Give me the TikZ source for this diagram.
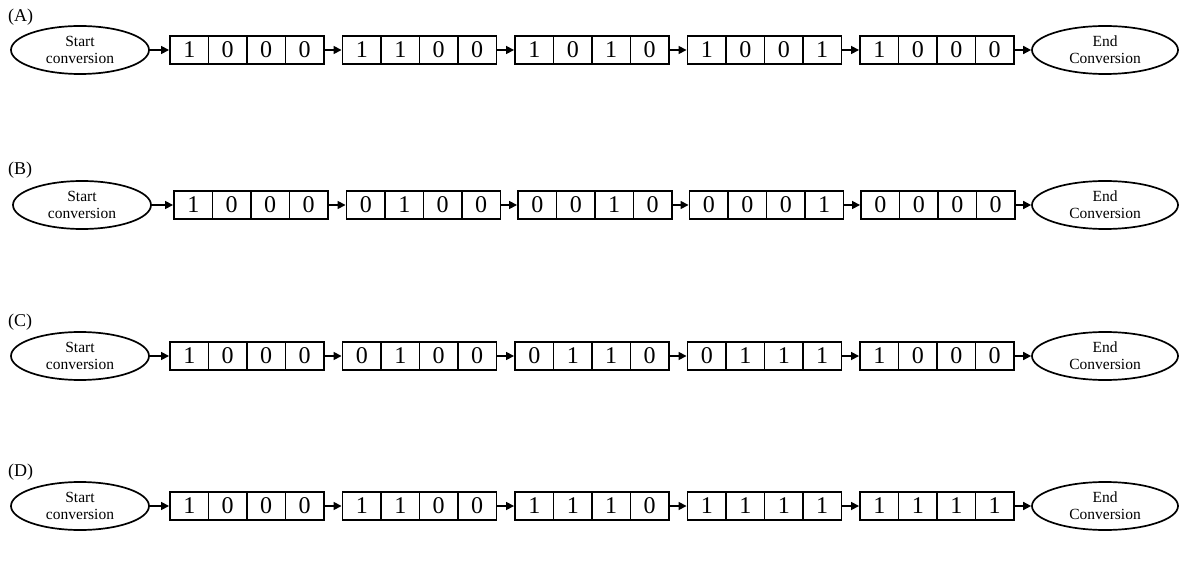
\documentclass[tikz,border=0pt]{standalone}
\usepackage{fontspec}
\setmainfont{Liberation Serif}
\usetikzlibrary{shapes.geometric, arrows.meta, positioning, calc}

% four bits of one register, one cell each
\newcommand{\bits}[4]{\makebox[38.5pt]{#1}\makebox[38.5pt]{#2}\makebox[38.5pt]{#3}\makebox[38.5pt]{#4}}

\begin{document}
\begin{tikzpicture}[
  x=1pt, y=-1pt,
  endpoint/.style={
    ellipse, draw=black, line width=1.7pt, align=center,
    minimum width=138pt, minimum height=48pt, inner sep=0pt,
    font=\fontsize{15.5}{17}\selectfont
  },
  register/.style={
    draw=black, line width=1.9pt, inner sep=0pt,
    minimum width=154pt, minimum height=28pt,
    font=\fontsize{24}{24}\selectfont,
    path picture={
      \foreach \k in {1,2,3}
        \draw[line width=1.4pt] ($(path picture bounding box.north west)!\k/4!(path picture bounding box.north east)$)
          -- ($(path picture bounding box.south west)!\k/4!(path picture bounding box.south east)$);
    }
  },
  shiftarrow/.style={-{Triangle[length=8pt,width=8pt]}, line width=1.6pt},
  caselabel/.style={anchor=west, inner sep=0pt, font=\fontsize{18}{18}\selectfont}
]
\useasboundingbox (0,0) rectangle (1183,577);

% ----------------- ROW A -----------------
\node[caselabel] (lab_a) at (8,17) {(A)};
\node[endpoint] (a_start) at (80,50) {Start\\conversion};
\node[register] (a1) at (247,50) {\bits1000};
\node[register] (a2) at (419.5,50) {\bits1100};
\node[register] (a3) at (592,50) {\bits1010};
\node[register] (a4) at (764.5,50) {\bits1001};
\node[register] (a5) at (937,50) {\bits1000};
\node[endpoint, minimum width=146pt] (a_end) at (1105,50) {End\\Conversion};

% ----------------- ROW B -----------------
\node[caselabel] (lab_b) at (8,170) {(B)};
\node[endpoint] (b_start) at (82,205) {Start\\conversion};
\node[register] (b1) at (251,205) {\bits1000};
\node[register] (b2) at (423.5,205) {\bits0100};
\node[register] (b3) at (595,205) {\bits0010};
\node[register] (b4) at (766.5,205) {\bits0001};
\node[register] (b5) at (938,205) {\bits0000};
\node[endpoint, minimum width=146pt] (b_end) at (1105,205) {End\\Conversion};

% ----------------- ROW C -----------------
\node[caselabel] (lab_c) at (8,322) {(C)};
\node[endpoint] (c_start) at (80,356) {Start\\conversion};
\node[register] (c1) at (247,356) {\bits1000};
\node[register] (c2) at (419.5,356) {\bits0100};
\node[register] (c3) at (592,356) {\bits0110};
\node[register] (c4) at (764.5,356) {\bits0111};
\node[register] (c5) at (937,356) {\bits1000};
\node[endpoint, minimum width=146pt] (c_end) at (1105,356) {End\\Conversion};

% ----------------- ROW D -----------------
\node[caselabel] (lab_d) at (8,472) {(D)};
\node[endpoint] (d_start) at (80,506) {Start\\conversion};
\node[register] (d1) at (247,506) {\bits1000};
\node[register] (d2) at (419.5,506) {\bits1100};
\node[register] (d3) at (592,506) {\bits1110};
\node[register] (d4) at (764.5,506) {\bits1111};
\node[register] (d5) at (937,506) {\bits1111};
\node[endpoint, minimum width=146pt] (d_end) at (1105,506) {End\\Conversion};

% ----------------- SHIFT ARROWS -----------------
\draw[shiftarrow] (a_start) -- (a1);
\draw[shiftarrow] (a1) -- (a2);
\draw[shiftarrow] (a2) -- (a3);
\draw[shiftarrow] (a3) -- (a4);
\draw[shiftarrow] (a4) -- (a5);
\draw[shiftarrow] (a5) -- (a_end);

\draw[shiftarrow] (b_start) -- (b1);
\draw[shiftarrow] (b1) -- (b2);
\draw[shiftarrow] (b2) -- (b3);
\draw[shiftarrow] (b3) -- (b4);
\draw[shiftarrow] (b4) -- (b5);
\draw[shiftarrow] (b5) -- (b_end);

\draw[shiftarrow] (c_start) -- (c1);
\draw[shiftarrow] (c1) -- (c2);
\draw[shiftarrow] (c2) -- (c3);
\draw[shiftarrow] (c3) -- (c4);
\draw[shiftarrow] (c4) -- (c5);
\draw[shiftarrow] (c5) -- (c_end);

\draw[shiftarrow] (d_start) -- (d1);
\draw[shiftarrow] (d1) -- (d2);
\draw[shiftarrow] (d2) -- (d3);
\draw[shiftarrow] (d3) -- (d4);
\draw[shiftarrow] (d4) -- (d5);
\draw[shiftarrow] (d5) -- (d_end);

\end{tikzpicture}
\end{document}
